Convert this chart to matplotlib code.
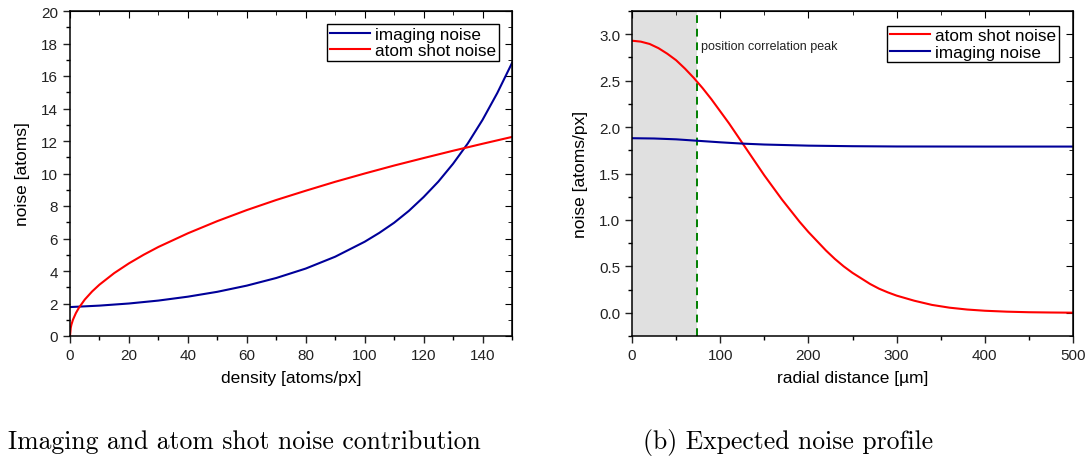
import matplotlib
matplotlib.use("Agg")
import matplotlib.pyplot as plt

# Left panel: noise vs. density
density = [0, 0.25, 0.5, 1, 2, 3, 5, 7.5, 10, 15, 20, 25, 30, 40, 50, 60, 70,
           80, 90, 100, 110, 120, 130, 140, 150]
shot_noise = [0, 0.5, 0.71, 1.0, 1.41, 1.73, 2.24, 2.74, 3.16, 3.87, 4.47,
              5.0, 5.48, 6.32, 7.07, 7.75, 8.37, 8.94, 9.49, 10.0, 10.49,
              10.95, 11.40, 11.83, 12.25]

density_img = [0, 10, 20, 30, 40, 50, 60, 70, 80, 90, 100, 105, 110, 115,
               120, 125, 130, 135, 140, 145, 150]
imaging_noise = [1.78, 1.87, 2.00, 2.18, 2.42, 2.72, 3.10, 3.57, 4.15, 4.88,
                 5.80, 6.35, 6.97, 7.70, 8.55, 9.50, 10.60, 11.85, 13.30,
                 14.95, 16.80]

# Right panel: radial noise profile
radius = [0, 10, 20, 30, 40, 50, 60, 70, 80, 90, 100, 110, 120, 130, 140,
          150, 160, 170, 180, 190, 200, 210, 220, 230, 240, 250, 260, 270,
          280, 290, 300, 320, 340, 360, 380, 400, 425, 450, 475, 500]
shot_profile = [2.93, 2.92, 2.895, 2.85, 2.79, 2.72, 2.63, 2.53, 2.42, 2.30,
                2.17, 2.04, 1.90, 1.76, 1.62, 1.48, 1.35, 1.22, 1.10, 0.98,
                0.87, 0.77, 0.67, 0.58, 0.50, 0.43, 0.37, 0.31, 0.26, 0.22,
                0.185, 0.13, 0.085, 0.055, 0.035, 0.022, 0.012, 0.006, 0.003,
                0.001]

radius_img = [0, 25, 50, 75, 100, 125, 150, 200, 250, 300, 400, 500]
imaging_profile = [1.88, 1.877, 1.868, 1.852, 1.836, 1.822, 1.812, 1.800,
                   1.794, 1.791, 1.790, 1.790]

corr_peak = 74  # µm

RED = "#ff0000"
BLUE = "#000099"

plt.rcParams["font.family"] = ["Liberation Sans", "DejaVu Sans"]


def style_axes(ax, xmajor, xminor, ymajor, yminor):
    ax.xaxis.set_major_locator(plt.MultipleLocator(xmajor))
    ax.xaxis.set_minor_locator(plt.MultipleLocator(xminor))
    ax.yaxis.set_major_locator(plt.MultipleLocator(ymajor))
    ax.yaxis.set_minor_locator(plt.MultipleLocator(yminor))
    ax.tick_params(which="major", direction="out", length=5, width=1,
                   labelsize=11, colors="#222222", labelcolor="#222222")
    ax.tick_params(which="minor", direction="out", length=3, width=1)
    for s in ax.spines.values():
        s.set_linewidth(1.1)
    # mirrored inward ticks on top/right
    top = ax.secondary_xaxis("top")
    top.xaxis.set_major_locator(plt.MultipleLocator(xmajor))
    top.xaxis.set_minor_locator(plt.MultipleLocator(xminor))
    top.tick_params(which="major", direction="in", length=5, labeltop=False)
    top.tick_params(which="minor", direction="in", length=3)
    right = ax.secondary_yaxis("right")
    right.yaxis.set_major_locator(plt.MultipleLocator(ymajor))
    right.yaxis.set_minor_locator(plt.MultipleLocator(yminor))
    right.tick_params(which="major", direction="in", length=5, labelright=False)
    right.tick_params(which="minor", direction="in", length=3)


def add_legend(ax, anchor):
    leg = ax.legend(loc="upper right", bbox_to_anchor=anchor, fontsize=12.3,
                    fancybox=False, framealpha=1, edgecolor="black",
                    borderpad=0.15, handlelength=2.35, labelspacing=0.1,
                    handletextpad=0.3, borderaxespad=0)
    leg.get_frame().set_linewidth(1.0)
    return leg


fig = plt.figure(figsize=(10.88, 4.6), dpi=100)
W, H = 1088, 460
ax1 = fig.add_axes([70 / W, 1 - 337 / H, (512 - 70) / W, (337 - 12) / H])
ax2 = fig.add_axes([632 / W, 1 - 337 / H, (1073 - 632) / W, (337 - 12) / H])

ax1.plot(density_img, imaging_noise, color=BLUE, lw=1.5, label="imaging noise")
ax1.plot(density, shot_noise, color=RED, lw=1.5, label="atom shot noise")
ax1.set_xlim(0, 150)
ax1.set_ylim(0, 20)
ax1.set_xlabel("density [atoms/px]", fontsize=12.5, labelpad=6)
ax1.set_ylabel("noise [atoms]", fontsize=12.5, labelpad=8)
style_axes(ax1, 20, 10, 2, 1)
add_legend(ax1, (0.9706, 0.96))

ax2.axvspan(0, corr_peak, color="#e0e0e0", zorder=0, lw=0)
ax2.axvline(corr_peak, color="#008000", ls=(0, (4, 3)), lw=1.4)
ax2.plot(radius, shot_profile, color=RED, lw=1.5, label="atom shot noise")
ax2.plot(radius_img, imaging_profile, color=BLUE, lw=1.5, label="imaging noise")
ax2.text(corr_peak + 4, 2.875, "position correlation peak", fontsize=9,
         ha="left", va="center", color="#222222")
ax2.set_xlim(0, 500)
ax2.set_ylim(-0.25, 3.25)
ax2.yaxis.set_major_formatter(plt.FormatStrFormatter("%.1f"))
ax2.set_xlabel("radial distance [µm]", fontsize=12.5, labelpad=6)
ax2.set_ylabel("noise [atoms/px]", fontsize=12.5, labelpad=8)
style_axes(ax2, 100, 50, 0.5, 0.25)
add_legend(ax2, (0.968, 0.955))

fig.text(8 / W, 1 - 449 / H, "Imaging and atom shot noise contribution",
         fontfamily="cmr10", fontsize=18.5, ha="left", va="baseline")
fig.text(643 / W, 1 - 449 / H, "(b) Expected noise profile",
         fontfamily="cmr10", fontsize=18.5, ha="left", va="baseline")

fig.savefig("out.png", dpi=100)
